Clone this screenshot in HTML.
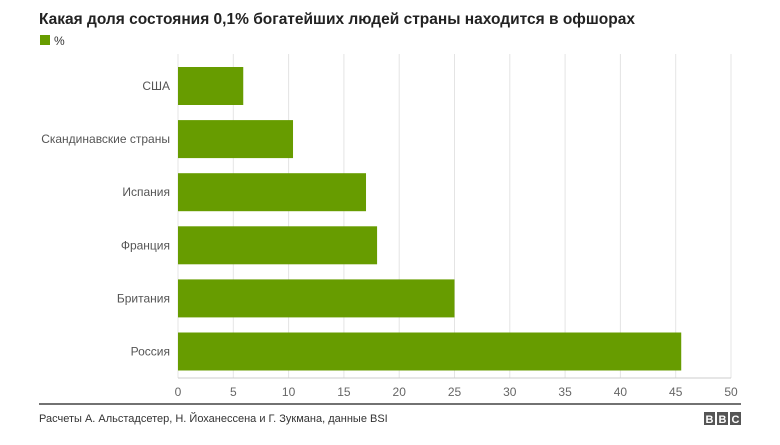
<!DOCTYPE html>
<html><head><meta charset="utf-8"><style>
body{margin:0;width:780px;height:440px;background:#fff;overflow:hidden;font-family:"Liberation Sans",Arial,sans-serif}
</style></head><body>
<svg width="780" height="440" viewBox="0 0 780 440">
<text x="39" y="24" font-size="15.5" font-weight="bold" fill="#222">Какая доля состояния 0,1% богатейших людей страны находится в офшорах</text>
<g><rect x="40" y="35" width="10" height="10" fill="#679c00"/>
<text x="54" y="45" font-size="12" fill="#333">%</text></g>
<g id="grid"></g>
<g id="bars"></g>
<g id="labels"></g>
<g id="ticks"></g>
<line x1="39" y1="404" x2="741" y2="404" stroke="#444" stroke-width="1.5"/>
<text x="39" y="422" font-size="11" fill="#333">Расчеты А. Альстадсетер, Н. Йоханессена и Г. Зукмана, данные BSI</text>
<g>
<rect x="704" y="412" width="11" height="13" fill="#555"/><rect x="717" y="412" width="11" height="13" fill="#555"/><rect x="730" y="412" width="11" height="13" fill="#555"/>
<text x="709.5" y="423" font-size="11" font-weight="bold" fill="#fff" text-anchor="middle">B</text>
<text x="722.5" y="423" font-size="11" font-weight="bold" fill="#fff" text-anchor="middle">B</text>
<text x="735.5" y="423" font-size="11" font-weight="bold" fill="#fff" text-anchor="middle">C</text></g>
</svg>
<script>
const categories=["США","Скандинавские страны","Испания","Франция","Британия","Россия"];
const values=[5.9,10.4,17,18,25,45.5];
const tickValues=[0,5,10,15,20,25,30,35,40,45,50];
const x0=178,x1=731,vmax=50,top0=54,step=53.1,barH=38;
const xs=v=>x0+(v/vmax)*(x1-x0);
const NS="http://www.w3.org/2000/svg";
function mk(t,a,p){const e=document.createElementNS(NS,t);for(const k in a)e.setAttribute(k,a[k]);p.appendChild(e);return e;}
const grid=document.getElementById('grid'),bars=document.getElementById('bars'),labels=document.getElementById('labels'),ticks=document.getElementById('ticks');
tickValues.forEach(t=>{
 const l=mk('line',{x1:xs(t),x2:xs(t),y1:top0,y2:378,stroke:'#e4e4e4','stroke-width':1},grid);
 
 
 const tx=mk('text',{x:xs(t),y:396,'font-size':12,fill:'#666','text-anchor':'middle'},ticks);
 tx.textContent=t;
 
 
});
const base=mk('line',{x1:x0,x2:x1,y1:378,y2:378,stroke:'#ccc','stroke-width':1},grid);


categories.forEach((c,i)=>{
 const y=top0+13+i*step;
 const r=mk('rect',{x:x0,y:y,width:xs(values[i])-x0,height:barH,fill:'#679c00'},bars);
 
 
 const tx=mk('text',{x:170,y:y+barH/2+4,'font-size':12,fill:'#555','text-anchor':'end'},labels);
 tx.textContent=c;
 
 
});
</script>
</body></html>
